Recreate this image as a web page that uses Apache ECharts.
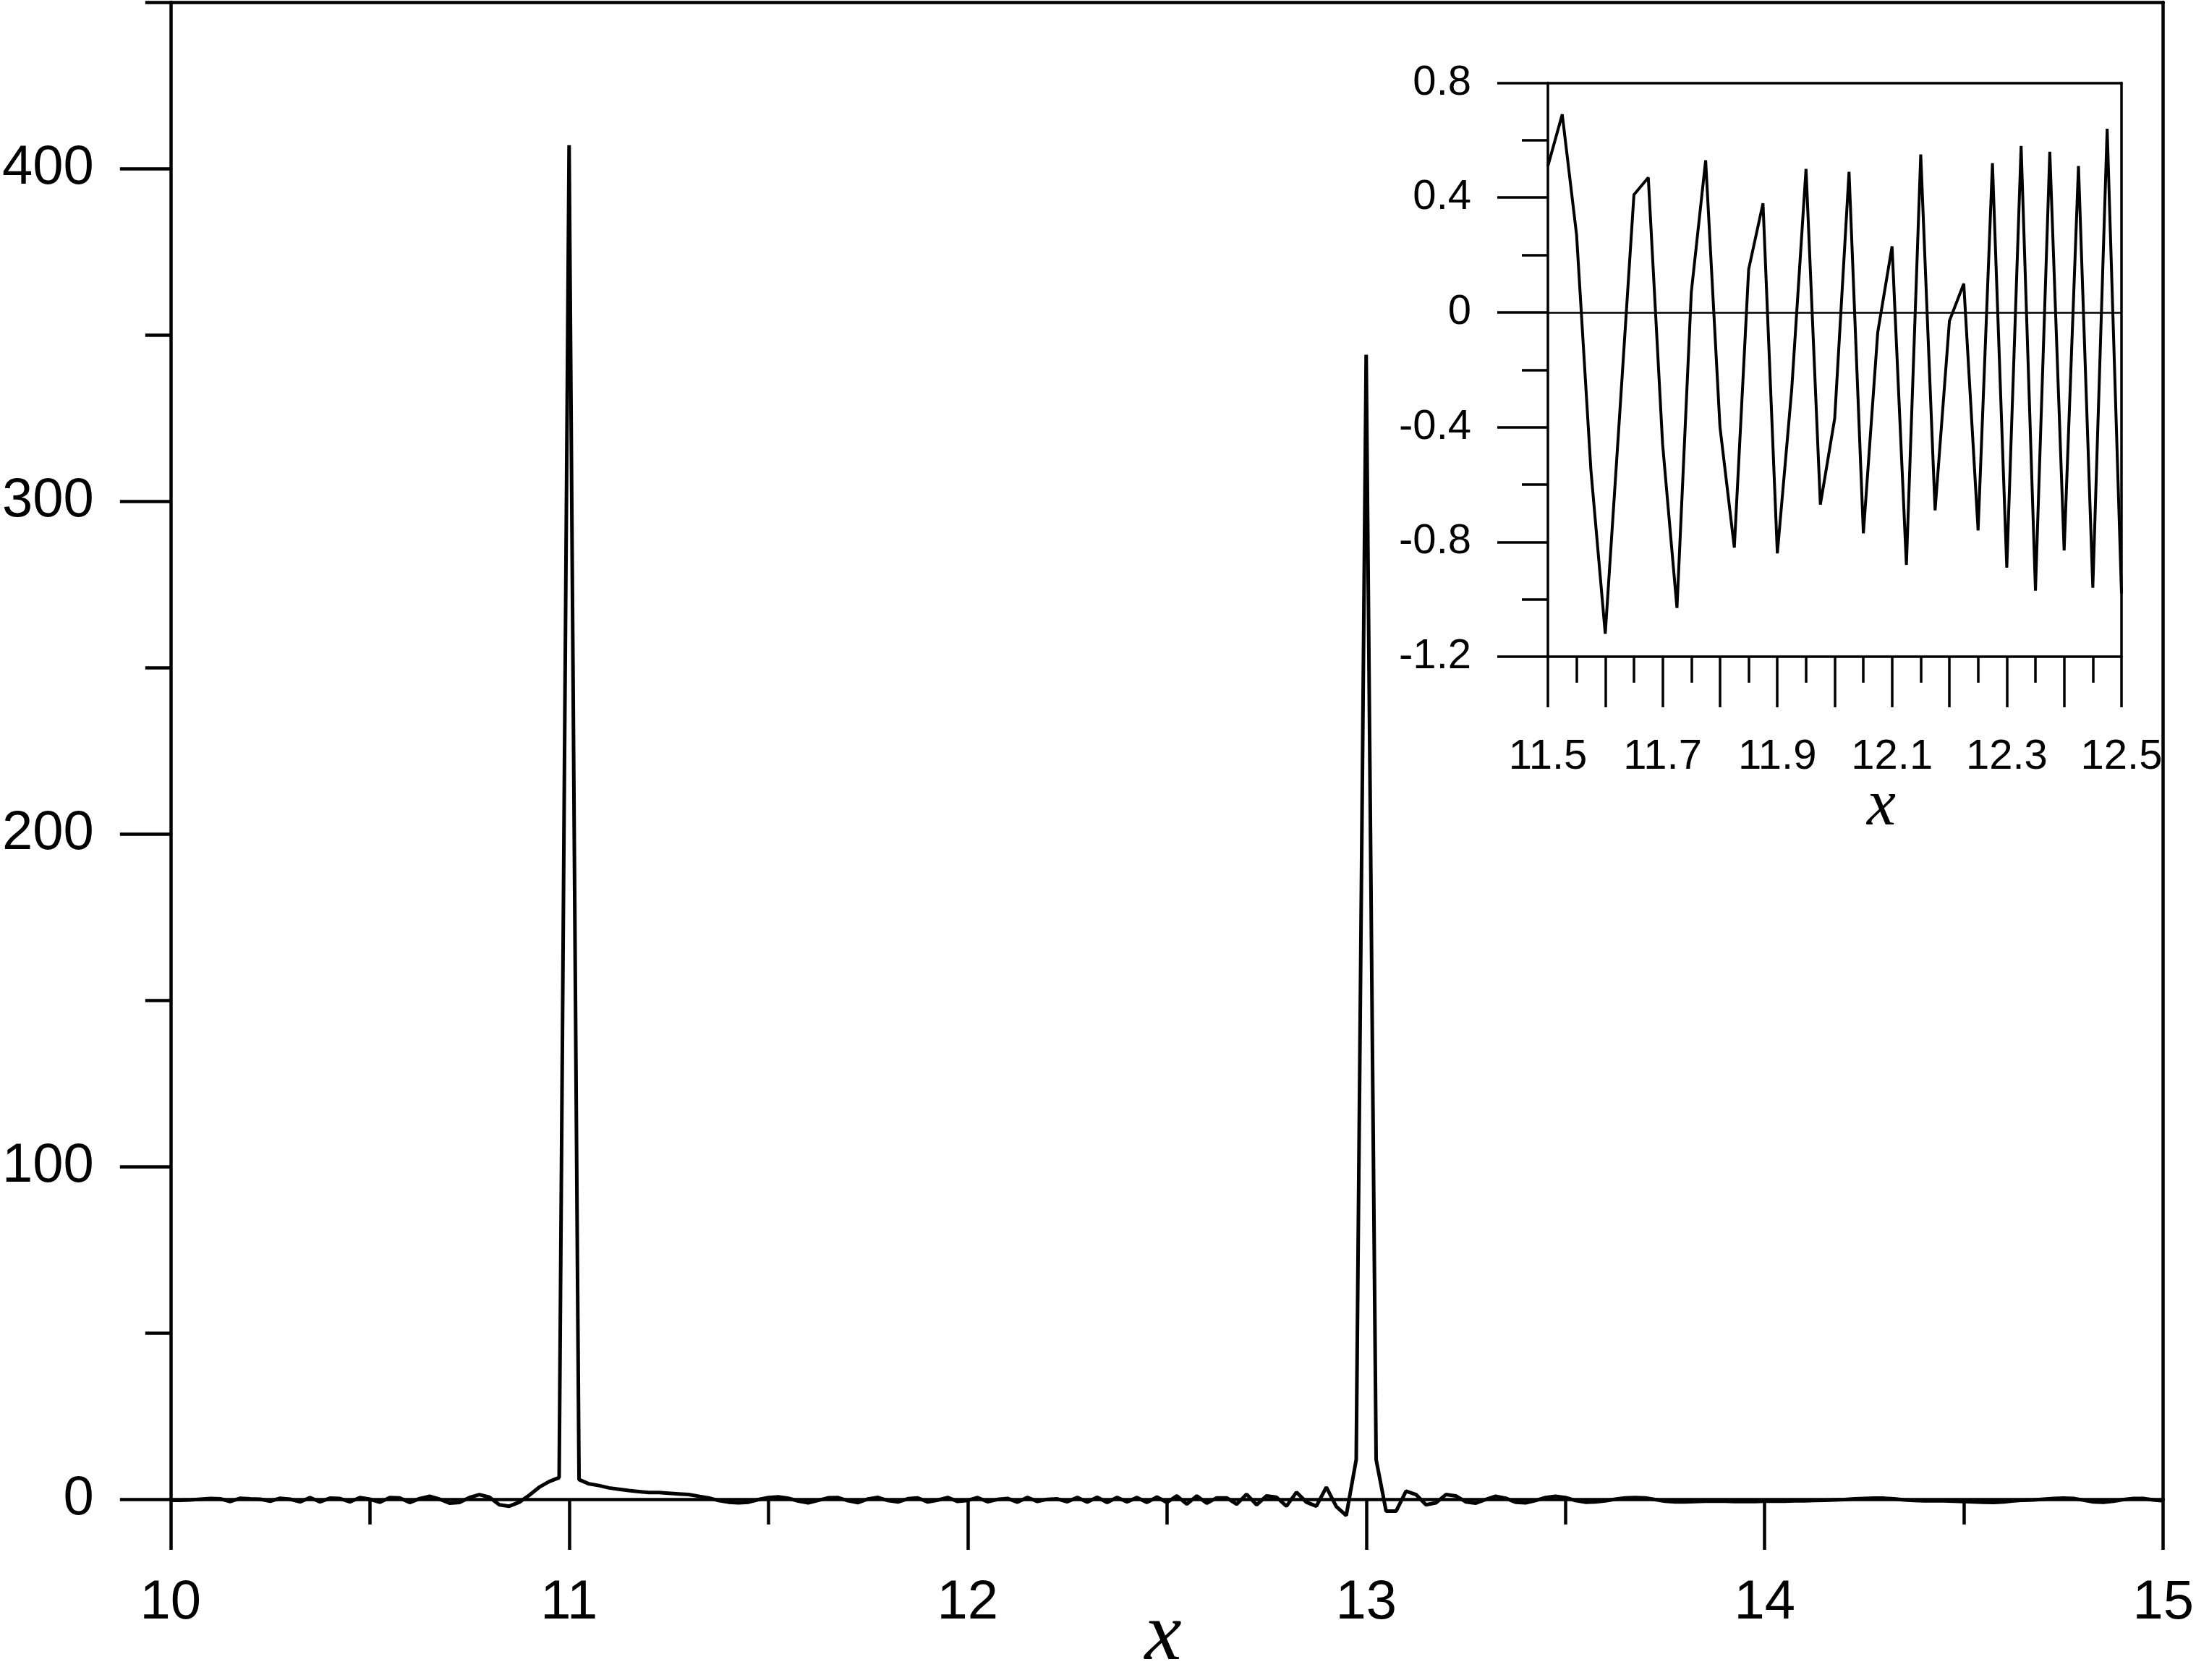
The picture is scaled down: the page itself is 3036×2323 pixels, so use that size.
<!DOCTYPE html>
<html>
<head>
<meta charset="utf-8">
<script src="https://cdn.jsdelivr.net/npm/echarts@6/dist/echarts.min.js"></script>
<style>
  html, body { margin: 0; padding: 0; background: #fff; }
  #chart { width: 3036px; height: 2323px; }
</style>
</head>
<body>
<div id="chart"></div>
<script>
// ---- sampling grid of the curve ----
const xStart = 10;
const xStep = 0.025;

// ---- y values, one array per unit of x ----
// x = 10.000 ... 11.000
const ySeg10 = [-0.3, -0.3, -0.2, 0.0, 0.2, 0.1, -0.7, 0.3, 0.1, 0.0,
  -0.6, 0.3, 0.0, -0.8, 0.5, -0.8, 0.3, 0.2, -0.8, 0.5,
  0.0, -0.9, 0.5, 0.4, -1.0, 0.2, 0.9, 0.0, -1.2, -1.0,
  0.5, 1.4, 0.6, -1.7, -2.1, -0.9, 1.2, 3.6, 5.3, 6.5,
  407];
// x = 11.025 ... 12.000
const ySeg11 = [5.9, 4.6, 4.1, 3.4, 3.0, 2.6, 2.3, 2.0, 2.0, 1.8,
  1.6, 1.4, 0.9, 0.4, -0.4, -0.9, -1.1, -0.9, -0.1, 0.51,
  0.69, 0.27, -0.55, -1.12, -0.36, 0.41, 0.47, -0.46, -1.03, 0.07,
  0.53, -0.40, -0.82, 0.15, 0.38, -0.84, -0.27, 0.50, -0.67, -0.37];
// x = 12.025 ... 13.000
const ySeg12 = [0.49, -0.77, -0.07, 0.23, -0.88, 0.55, -0.69, -0.03, 0.10, -0.76,
  0.52, -0.89, 0.58, -0.97, 0.56, -0.83, 0.51, -0.96, 0.64, -0.98,
  1.0, -1.5, 1.0, -1.2, 0.4, 0.4, -1.5, 1.5, -1.7, 1.0,
  0.6, -2.1, 2.1, -0.9, -2.1, 3.6, -2.2, -4.9, 11.9, 344];
// x = 13.025 ... 14.000
const ySeg13 = [11.9, -3.6, -3.6, 2.4, 1.4, -1.7, -1.1, 1.4, 1.0, -0.8,
  -1.2, -0.1, 0.9, 0.3, -0.9, -1.1, -0.4, 0.5, 0.9, 0.5,
  -0.4, -0.9, -0.8, -0.5, 0.0, 0.4, 0.5, 0.4, -0.1, -0.6,
  -0.8, -0.8, -0.7, -0.6, -0.6, -0.6, -0.7, -0.7, -0.7, -0.6];
// x = 14.025 ... 15.000
const ySeg14 = [-0.6, -0.6, -0.5, -0.5, -0.4, -0.3, -0.2, -0.1, 0.1, 0.2,
  0.3, 0.3, 0.1, -0.2, -0.4, -0.5, -0.5, -0.5, -0.6, -0.7,
  -0.8, -0.9, -1.0, -0.8, -0.5, -0.3, -0.2, 0.0, 0.2, 0.3,
  0.2, -0.3, -0.8, -0.9, -0.6, -0.1, 0.2, 0.2, -0.2, -0.5];

// ---- tick values / labels ----
const mainYMajor = [0, 100, 200, 300, 400];
const mainYMinor = [50, 150, 250, 350, 450];
const insetXLabels = [11.5, 11.7, 11.9, 12.1, 12.3, 12.5];

const yValues = [].concat(ySeg10, ySeg11, ySeg12, ySeg13, ySeg14);
const mainData = yValues.map((v, i) => [+(xStart + i * xStep).toFixed(3), v]);
const insetData = mainData.filter(p => p[0] >= 11.5 - 1e-9 && p[0] <= 12.5 + 1e-9);

const FONT = 'Liberation Sans';
const black = '#000';

const chart = echarts.init(document.getElementById('chart'), null, { renderer: 'canvas' });

const option = {
  backgroundColor: '#fff',
  animation: false,
  grid: [
    { left: 232, top: 3, width: 2759, height: 2070 },
    { left: 2140, top: 114.5, width: 793, height: 793.5 }
  ],
  xAxis: [
    {
      gridIndex: 0, type: 'value', position: 'bottom', min: 10, max: 15, interval: 1,
      axisLine: { show: true, onZero: false, lineStyle: { color: black, width: 4.5 } },
      axisTick: { show: true, inside: false, length: 70, lineStyle: { color: black, width: 4.5 } },
      minorTick: { show: true, splitNumber: 2, length: 35, lineStyle: { color: black, width: 4.5 } },
      axisLabel: { show: true, fontSize: 76, fontFamily: FONT, color: black, margin: 106 },
      splitLine: { show: false }, minorSplitLine: { show: false }
    },
    {
      gridIndex: 0, type: 'value', position: 'top', min: 10, max: 15,
      axisLine: { show: true, onZero: false, lineStyle: { color: black, width: 4.5 } },
      axisTick: { show: false }, axisLabel: { show: false }, splitLine: { show: false }
    },
    {
      gridIndex: 1, type: 'value', position: 'bottom', min: 11.5, max: 12.5, interval: 0.1,
      axisLine: { show: true, onZero: false, lineStyle: { color: black, width: 3.5 } },
      axisTick: { show: true, inside: false, length: 70, lineStyle: { color: black, width: 3.5 } },
      minorTick: { show: true, splitNumber: 2, length: 36, lineStyle: { color: black, width: 3.5 } },
      axisLabel: {
        show: true, fontSize: 58, fontFamily: FONT, color: black, margin: 110,
        showMinLabel: true, showMaxLabel: true,
        formatter: function (v) {
          for (let i = 0; i < insetXLabels.length; i++) {
            if (Math.abs(insetXLabels[i] - v) < 1e-6) return insetXLabels[i].toFixed(1);
          }
          return '';
        }
      },
      splitLine: { show: false }, minorSplitLine: { show: false }
    },
    {
      gridIndex: 1, type: 'value', position: 'top', min: 11.5, max: 12.5,
      axisLine: { show: true, onZero: false, lineStyle: { color: black, width: 3.5 } },
      axisTick: { show: false }, axisLabel: { show: false }, splitLine: { show: false }
    }
  ],
  yAxis: [
    {
      gridIndex: 0, type: 'value', position: 'left', min: 0, max: 450, interval: 50,
      axisLine: { show: true, onZero: false, lineStyle: { color: black, width: 4.5 } },
      axisTick: { show: true, inside: false, length: 70, customValues: mainYMajor, lineStyle: { color: black, width: 4.5 } },
      axisLabel: {
        show: true, fontSize: 76, fontFamily: FONT, color: black, margin: 106,
        customValues: mainYMajor,
        formatter: function (v) { return mainYMajor.indexOf(Math.round(v)) >= 0 ? String(Math.round(v)) : ''; }
      },
      splitLine: { show: false }
    },
    {
      gridIndex: 0, type: 'value', position: 'left', min: 0, max: 450, interval: 50,
      axisLine: { show: false },
      axisTick: { show: true, inside: false, length: 35, customValues: mainYMinor, lineStyle: { color: black, width: 4.5 } },
      axisLabel: { show: false }, splitLine: { show: false }
    },
    {
      gridIndex: 0, type: 'value', position: 'right', min: 0, max: 450,
      axisLine: { show: true, onZero: false, lineStyle: { color: black, width: 4.5 } },
      axisTick: { show: false }, axisLabel: { show: false }, splitLine: { show: false }
    },
    {
      gridIndex: 1, type: 'value', position: 'left', min: -1.2, max: 0.8, interval: 0.4,
      axisLine: { show: true, onZero: false, lineStyle: { color: black, width: 3.5 } },
      axisTick: { show: true, inside: false, length: 70, lineStyle: { color: black, width: 3.5 } },
      minorTick: { show: true, splitNumber: 2, length: 36, lineStyle: { color: black, width: 3.5 } },
      axisLabel: { show: true, fontSize: 58, fontFamily: FONT, color: black, margin: 106 },
      splitLine: { show: false }, minorSplitLine: { show: false }
    },
    {
      gridIndex: 1, type: 'value', position: 'right', min: -1.2, max: 0.8,
      axisLine: { show: true, onZero: false, lineStyle: { color: black, width: 3.5 } },
      axisTick: { show: false }, axisLabel: { show: false }, splitLine: { show: false }
    }
  ],
  series: [
    {
      type: 'line', xAxisIndex: 0, yAxisIndex: 0, data: mainData,
      showSymbol: false, symbol: 'none', clip: false, silent: true,
      lineStyle: { color: black, width: 5 }
    },
    {
      type: 'line', xAxisIndex: 2, yAxisIndex: 3, data: insetData,
      showSymbol: false, symbol: 'none', clip: true, silent: true,
      lineStyle: { color: black, width: 4 },
      markLine: {
        silent: true, symbol: ['none', 'none'], animation: false,
        label: { show: false },
        lineStyle: { color: black, width: 2.5, type: 'solid' },
        data: [{ yAxis: 0 }]
      }
    }
  ],
  graphic: [
    {
      type: 'text', x: 1608, y: 2264,
      style: { text: 'x', font: 'italic 115px "Liberation Serif"', fill: black, textAlign: 'center', textVerticalAlign: 'middle' }
    },
    {
      type: 'text', x: 2601, y: 1116,
      style: { text: 'x', font: 'italic 90px "Liberation Serif"', fill: black, textAlign: 'center', textVerticalAlign: 'middle' }
    }
  ]
};

chart.setOption(option);
</script>
</body>
</html>
